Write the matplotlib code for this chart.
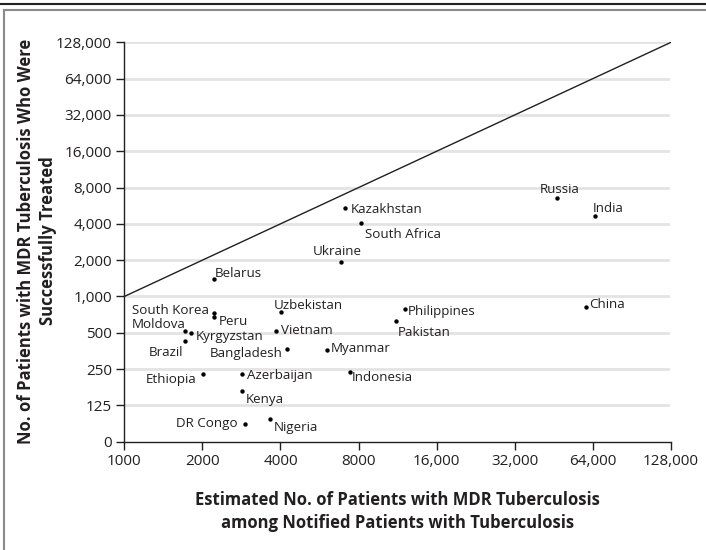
import matplotlib
matplotlib.use("Agg")
import matplotlib.pyplot as plt
from matplotlib.lines import Line2D
from matplotlib.ticker import FixedLocator, FixedFormatter, NullLocator

plt.rcParams['font.family'] = ['Open Sans', 'DejaVu Sans']

countries = ["Belarus", "South Korea", "Peru", "Moldova", "Kyrgyzstan", "Brazil",
             "Ethiopia", "Uzbekistan", "Vietnam", "Bangladesh", "Azerbaijan", "Kenya",
             "DR Congo", "Nigeria", "Myanmar", "Philippines", "Pakistan", "China",
             "Indonesia", "Kazakhstan", "South Africa", "Ukraine", "Russia", "India"]
estimated_mdr = [2210, 2210, 2210, 1715, 1810, 1715,
                 2010, 4020, 3830, 4250, 2830, 2830,
                 2920, 3630, 6070, 12100, 11150, 60000,
                 7380, 7060, 8200, 6860, 46600, 65000]
treated = [1395, 734, 681, 515, 498, 428,
           228, 748, 515, 369, 229, 165,
           87, 97, 358, 792, 626, 823,
           235, 5390, 4070, 1943, 6590, 4625]

x_ticks = [1000, 2000, 4000, 8000, 16000, 32000, 64000, 128000]
x_tick_labels = ["1000", "2000", "4000", "8000", "16,000", "32,000", "64,000", "128,000"]
y_ticks = [62.5, 125, 250, 500, 1000, 2000, 4000, 8000, 16000, 32000, 64000, 128000]
y_tick_labels = ["0", "125", "250", "500", "1,000", "2,000", "4,000", "8,000",
                 "16,000", "32,000", "64,000", "128,000"]

# label placement (pixel offsets from the point, horizontal alignment)
label_pos = {
    "Belarus": (1, 7, "left"), "South Korea": (-4.5, 4, "right"),
    "Peru": (5.5, -3, "left"), "Moldova": (1, 8.6, "right"),
    "Kyrgyzstan": (5, -2, "left"), "Brazil": (-2, -10, "right"),
    "Ethiopia": (-6, -4, "right"), "Uzbekistan": (-7, 7.7, "left"),
    "Vietnam": (5, 2.7, "left"), "Bangladesh": (-4.5, -3, "right"),
    "Azerbaijan": (5, 0, "left"), "Kenya": (4, -7, "left"),
    "DR Congo": (-7, 2.6, "right"), "Nigeria": (4, -7.7, "left"),
    "Myanmar": (3, 3, "left"), "Philippines": (2.7, -1.3, "left"),
    "Pakistan": (2, -10, "left"), "China": (3, 3.4, "left"),
    "Indonesia": (2, -3.7, "left"), "Kazakhstan": (6, 0, "left"),
    "South Africa": (3.6, -9.7, "left"), "Ukraine": (-4, 11.7, "center"),
    "Russia": (3, 9.4, "center"), "India": (-2, 9, "left"),
}

W, H = 706, 550
fig = plt.figure(figsize=(W / 100, H / 100), dpi=100)
ax = fig.add_axes([124.3 / W, 1 - 441.7 / H, (671 - 124.3) / W, (441.7 - 42.3) / H])

ax.set_xscale('log', base=2)
ax.set_yscale('log', base=2)
ax.set_xlim(1000, 128000)
ax.set_ylim(62.5, 128000)

text_color = "#231f20"
for y in y_ticks[1:]:
    ax.axhline(y, xmin=0, xmax=0.994, color="#e3e3e3", lw=2, zorder=0)

ax.plot([1000, 128000], [1000, 128000], color=text_color, lw=1.0, zorder=2)
ax.scatter(estimated_mdr, treated, s=10, color="black", zorder=3, linewidths=0)

for name, xv, yv in zip(countries, estimated_mdr, treated):
    dx, dy, ha = label_pos[name]
    ax.annotate(name, (xv, yv), xytext=(dx, dy), textcoords='offset pixels',
                ha=ha, va='center_baseline', fontsize=9.6, color=text_color)

ax.xaxis.set_major_locator(FixedLocator(x_ticks))
ax.xaxis.set_major_formatter(FixedFormatter(x_tick_labels))
ax.xaxis.set_minor_locator(NullLocator())
ax.yaxis.set_major_locator(FixedLocator(y_ticks))
ax.yaxis.set_major_formatter(FixedFormatter(y_tick_labels))
ax.yaxis.set_minor_locator(NullLocator())

for s in ["top", "right"]:
    ax.spines[s].set_visible(False)
for s in ["left", "bottom"]:
    ax.spines[s].set_color(text_color)
    ax.spines[s].set_linewidth(1.0)
ax.tick_params(axis='both', length=6, width=1.0, color=text_color, labelcolor=text_color,
               labelsize=11, pad=3)

ax.set_xlabel("Estimated No. of Patients with MDR Tuberculosis\namong Notified Patients with Tuberculosis",
              fontsize=12, fontweight='bold', color=text_color, labelpad=16, linespacing=1.3)
fig.text(37 / W, 1 - 241 / H, "No. of Patients with MDR Tuberculosis Who Were\nSuccessfully Treated",
         rotation=90, ha='center', va='center', multialignment='center',
         fontsize=12, fontweight='bold', color=text_color, linespacing=1.25)

# frame
fig.add_artist(Line2D([0, 1], [1 - 4 / H, 1 - 4 / H], color="#222222", lw=1.5))
fig.add_artist(Line2D([3.5 / W, 1], [1 - 10 / H, 1 - 10 / H], color="#8a8a8a", lw=1.5))
fig.add_artist(Line2D([3.5 / W, 3.5 / W], [0, 1 - 10 / H], color="#8a8a8a", lw=1.5))

fig.savefig("out.png", dpi=100)
